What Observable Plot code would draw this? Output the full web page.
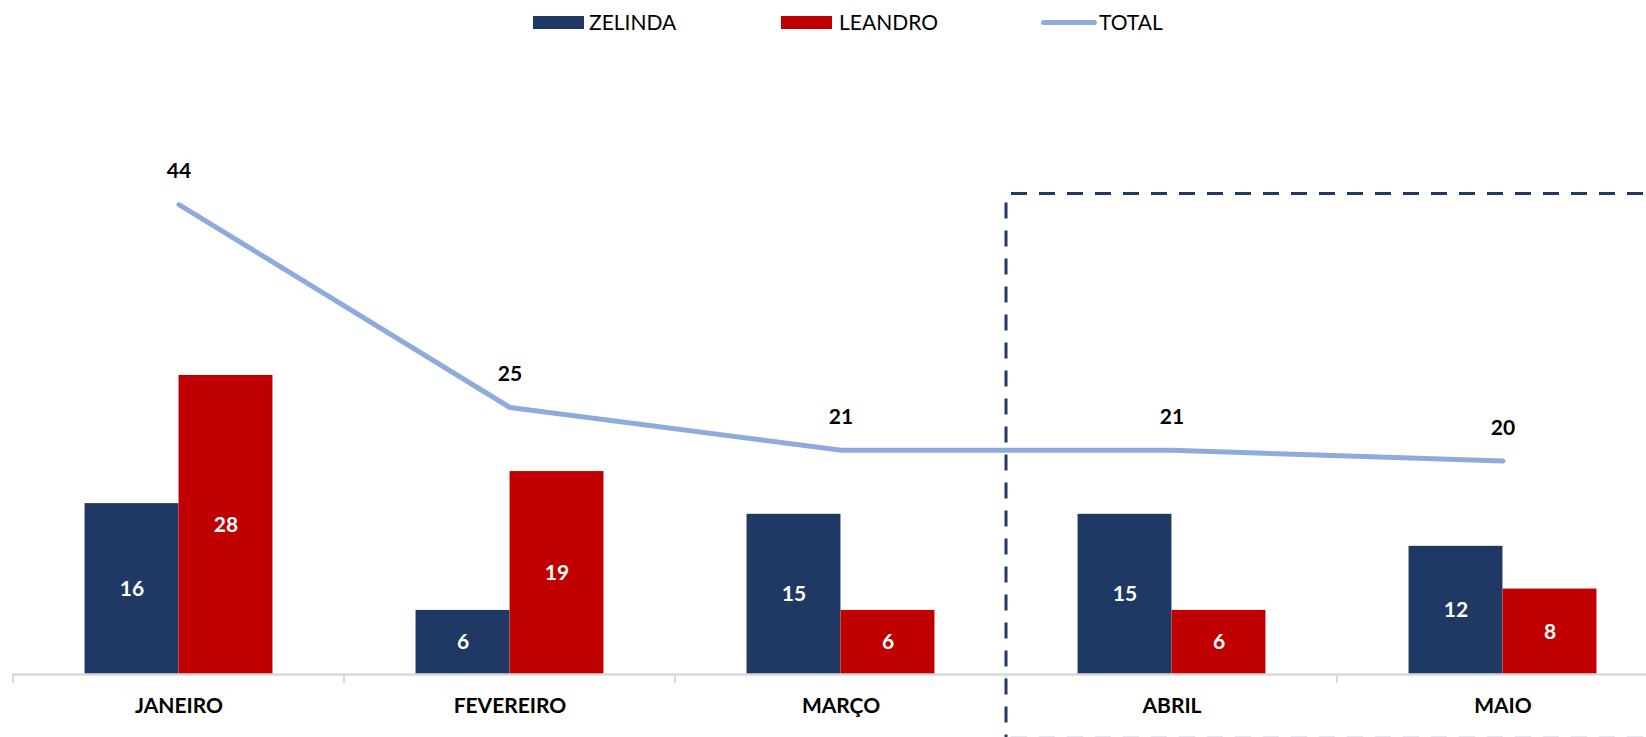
<!DOCTYPE html>
<html><head><meta charset="utf-8">
<script src="https://cdn.jsdelivr.net/npm/d3@7"></script>
<script src="https://cdn.jsdelivr.net/npm/@observablehq/plot@0.6"></script>
<style>
html,body{margin:0;padding:0;background:#fff;overflow:hidden;width:1646px;height:737px}
body{font-family:Lato,"Open Sans",sans-serif}
#legend{position:relative;height:45px;width:1646px}
.sw{position:absolute}
.lt{position:absolute;font-size:21px;line-height:22px;top:11px;color:#000}
#chart svg{display:block;overflow:hidden}
</style></head><body>
<div id="legend"></div><div id="chart"></div>
<script>
// ---- data ----
const months = ["JANEIRO", "FEVEREIRO", "MARÇO", "ABRIL", "MAIO"];
const zelinda = [16, 6, 15, 15, 12];
const leandro = [28, 19, 6, 6, 8];
const total = [44, 25, 21, 21, 20];
const seriesNames = ["ZELINDA", "LEANDRO", "TOTAL"];
const highlightFrom = "ABRIL";
const highlightTop = 45;
const highlightBottom = -6;

// ---- style ----
const NAVY = "#203864", RED = "#c00000", LINE = "#8faadc", AXIS = "#d9d9d9";
const FONT = 'Lato,"Open Sans",sans-serif';
const W = 1646, H = 692;
const xRange = [12.6, 1668];
const step = (xRange[1] - xRange[0]) / months.length;
const half = step / 2, barW = 94;

const zData = months.map((m, i) => ({month: m, value: zelinda[i]}));
const lData = months.map((m, i) => ({month: m, value: leandro[i]}));
const tData = months.map((m, i) => ({month: m, value: total[i]}));

// ---- legend ----
const legend = document.getElementById("legend");
const legendItems = [
  {name: seriesNames[0], kind: "box", color: NAVY, left: 533, textLeft: 589},
  {name: seriesNames[1], kind: "box", color: RED, left: 781, textLeft: 839},
  {name: seriesNames[2], kind: "line", color: LINE, left: 1041, textLeft: 1099}
];
for (const it of legendItems) {
  const s = document.createElement("div");
  s.className = "sw";
  s.style.left = it.left + "px";
  s.style.background = it.color;
  if (it.kind === "box") { s.style.top = "16px"; s.style.width = "51px"; s.style.height = "13px"; }
  else { s.style.top = "20px"; s.style.width = "56px"; s.style.height = "5px"; s.style.borderRadius = "3px"; }
  legend.appendChild(s);
  const t = document.createElement("div");
  t.className = "lt";
  t.style.left = it.textLeft + "px";
  t.textContent = it.name;
  legend.appendChild(t);
}

// ---- chart ----
const chart = Plot.plot({
  width: W, height: H,
  marginTop: 95, marginBottom: 63, marginLeft: xRange[0], marginRight: 0,
  x: {type: "band", domain: months, range: xRange, padding: 0, axis: null},
  y: {domain: [0, 50], range: [629, 95], axis: null},
  style: {fontFamily: FONT, background: "white", overflow: "hidden"},
  marks: [
    Plot.barY(zData, {x: "month", y: "value", fill: NAVY, insetLeft: half - barW, insetRight: half}),
    Plot.barY(lData, {x: "month", y: "value", fill: RED, insetLeft: half, insetRight: half - barW}),
    Plot.ruleY([0], {stroke: AXIS, strokeWidth: 2.5}),
    Plot.text(zData, {x: "month", y: d => d.value / 2, text: d => String(d.value), dx: -barW / 2, fill: "white", fontWeight: "bold", fontSize: 21}),
    Plot.text(lData, {x: "month", y: d => d.value / 2, text: d => String(d.value), dx: barW / 2, fill: "white", fontWeight: "bold", fontSize: 21}),
    Plot.line(tData, {x: "month", y: "value", stroke: LINE, strokeWidth: 5, strokeLinecap: "round", strokeLinejoin: "round"}),
    Plot.text(tData, {x: "month", y: "value", text: d => String(d.value), dy: -33, fill: "#000", fontWeight: "bold", fontSize: 21}),
    Plot.text(months, {x: d => d, y: 0, text: d => d, dy: 31.5, fill: "#000", fontWeight: "bold", fontSize: 21})
  ]
});
document.getElementById("chart").appendChild(chart);

// ---- category boundary ticks and highlight box, from the plot's scales ----
const sx = chart.scale("x"), sy = chart.scale("y");
const svg = d3.select(chart);
const y0 = sy.apply(0);
const bounds = months.map(m => sx.apply(m));
bounds.push(sx.apply(months[months.length - 1]) + sx.bandwidth);
svg.append("g").selectAll("line").data(bounds).join("line")
  .attr("x1", d => d).attr("x2", d => d)
  .attr("y1", y0).attr("y2", y0 + 9)
  .attr("stroke", AXIS).attr("stroke-width", 2);

const bx = sx.apply(highlightFrom);
const bt = sy.apply(highlightTop), bb = sy.apply(highlightBottom);
const g = svg.append("g").attr("fill", "none").attr("stroke", NAVY).attr("stroke-width", 3).attr("stroke-dasharray", "16 12");
g.append("line").attr("x1", bx + 5).attr("x2", W + 20).attr("y1", bt).attr("y2", bt);
g.append("line").attr("x1", bx).attr("x2", bx).attr("y1", bt + 9).attr("y2", bb);
g.append("line").attr("x1", bx + 5).attr("x2", W + 20).attr("y1", bb).attr("y2", bb).attr("stroke", "#c9d0df");
</script>
</body></html>
